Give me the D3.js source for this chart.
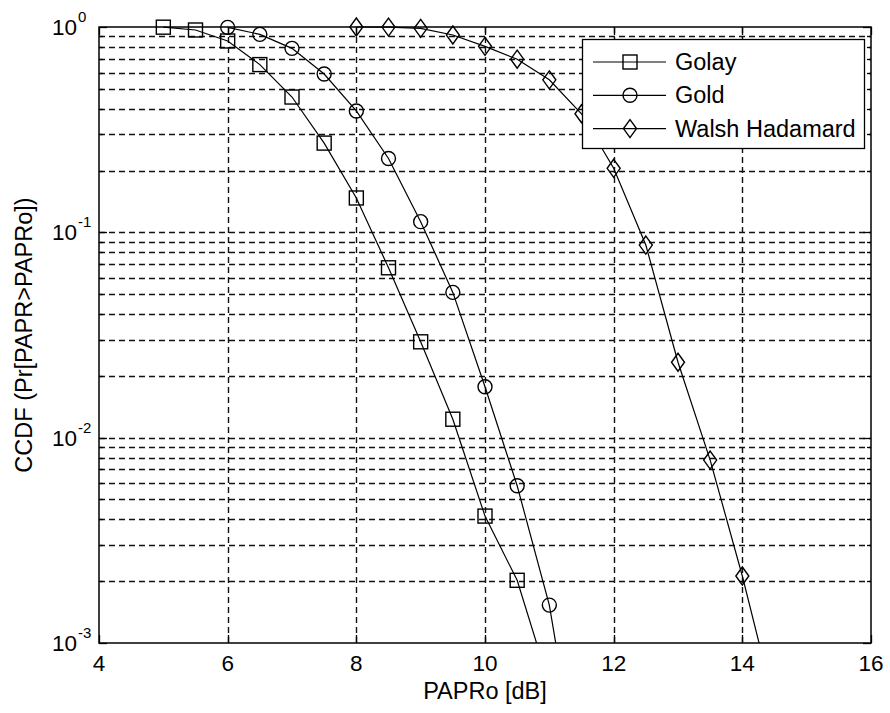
<!DOCTYPE html>
<html>
<head>
<meta charset="utf-8">
<script src="https://cdn.jsdelivr.net/npm/d3@7"></script>
<style>
  html, body { margin: 0; padding: 0; background: #fff; }
  svg { display: block; }
  text { font-family: "Liberation Sans", Arial, Helvetica, sans-serif; fill: #000; }
</style>
</head>
<body>
<svg id="chart" width="890" height="713"></svg>
<script>
// ---- data ----
const xTicks = [4, 6, 8, 10, 12, 14, 16];
const yTickExps = [0, -1, -2, -3];
const seriesNames = ["Golay", "Gold", "Walsh Hadamard"];

const golayX = [5, 5.5, 6, 6.5, 7, 7.5, 8, 8.5, 9, 9.5, 10, 10.5, 11];
const golayY = [0.998, 0.967, 0.855, 0.656, 0.456, 0.272, 0.147, 0.0672, 0.0293, 0.0123, 0.00415, 0.00202, 0.00063];

const goldX = [6, 6.5, 7, 7.5, 8, 8.5, 9, 9.5, 10, 10.5, 11, 11.5];
const goldY = [0.996, 0.921, 0.787, 0.590, 0.390, 0.229, 0.1127, 0.0510, 0.0177, 0.00583, 0.00153, 0.00018];

const walshX = [8, 8.5, 9, 9.5, 10, 10.5, 11, 11.5, 12, 12.5, 13, 13.5, 14, 14.5];
const walshY = [1.0, 0.999, 0.985, 0.914, 0.805, 0.697, 0.553, 0.378, 0.205, 0.0867, 0.0233, 0.00778, 0.00212, 0.0005];

// ---- layout ----
const L = 99, R = 871, T = 27, B = 643;
const svg = d3.select("#chart");
const x = d3.scaleLinear().domain([4, 16]).range([L, R]);
const y = d3.scaleLog().domain([1e-3, 1]).range([B, T]);

const FS = 22.5;

// grid
const yAll = y.ticks();
const isMajor = v => Math.abs(Math.log10(v) - Math.round(Math.log10(v))) < 1e-9;
const grid = svg.append("g").attr("stroke", "#111").attr("stroke-width", 1.4)
  .attr("stroke-dasharray", "6,4").attr("fill", "none");
grid.selectAll("line.h").data(yAll.filter(v => v > 1e-3 * 1.0001 && v < 0.9999))
  .join("line").attr("class", "h")
  .attr("x1", L).attr("x2", R).attr("y1", d => Math.round(y(d)) + 0.5).attr("y2", d => Math.round(y(d)) + 0.5);
grid.selectAll("line.v").data(xTicks.slice(1, -1))
  .join("line").attr("class", "v")
  .attr("y1", T).attr("y2", B).attr("x1", d => Math.round(x(d)) + 0.5).attr("x2", d => Math.round(x(d)) + 0.5);

// ticks
const ticks = svg.append("g").attr("stroke", "#000").attr("stroke-width", 1.3);
yAll.forEach(v => {
  const len = isMajor(v) ? 8 : 4;
  const yy = Math.round(y(v)) + 0.5;
  ticks.append("line").attr("x1", L).attr("x2", L + len).attr("y1", yy).attr("y2", yy);
  ticks.append("line").attr("x1", R).attr("x2", R - len).attr("y1", yy).attr("y2", yy);
});
xTicks.forEach(v => {
  const xx = Math.round(x(v)) + 0.5;
  ticks.append("line").attr("x1", xx).attr("x2", xx).attr("y1", B).attr("y2", B - 8);
  ticks.append("line").attr("x1", xx).attr("x2", xx).attr("y1", T).attr("y2", T + 8);
});

// frame
svg.append("rect").attr("x", L).attr("y", T).attr("width", R - L).attr("height", B - T)
  .attr("fill", "none").attr("stroke", "#000").attr("stroke-width", 1.5);

// x tick labels
svg.append("g").selectAll("text").data(xTicks).join("text")
  .attr("x", d => x(d)).attr("y", 671).attr("text-anchor", "middle")
  .attr("font-size", FS).text(d => d);

// y tick labels
const yl = svg.append("g");
yTickExps.forEach(e => {
  const yy = y(Math.pow(10, e));
  yl.append("text").attr("x", 77).attr("y", yy + 8).attr("text-anchor", "end")
    .attr("font-size", FS).text("10");
  yl.append("text").attr("x", 78).attr("y", yy - 5).attr("text-anchor", "start")
    .attr("font-size", 15).text(e === 0 ? "0" : "-" + Math.abs(e));
});

// axis labels
svg.append("text").attr("x", (L + R) / 2).attr("y", 699).attr("text-anchor", "middle")
  .attr("font-size", FS + 1).text("PAPRo [dB]");
svg.append("text").attr("transform", `translate(32,${(T + B) / 2}) rotate(-90)`)
  .attr("text-anchor", "middle").attr("font-size", FS + 1).text("CCDF (Pr[PAPR>PAPRo])");

// series
svg.append("clipPath").attr("id", "clip").append("rect")
  .attr("x", L).attr("y", T - 2).attr("width", R - L).attr("height", B - T + 2);

const series = [
  { name: seriesNames[0], xs: golayX, ys: golayY, marker: "square" },
  { name: seriesNames[1], xs: goldX, ys: goldY, marker: "circle" },
  { name: seriesNames[2], xs: walshX, ys: walshY, marker: "diamond" }
];

const line = d3.line().x(d => x(d[0])).y(d => y(d[1]));

function drawMarker(g, kind, cx, cy) {
  if (kind === "square") {
    g.append("rect").attr("x", cx - 7).attr("y", cy - 7).attr("width", 14).attr("height", 14);
  } else if (kind === "circle") {
    g.append("circle").attr("cx", cx).attr("cy", cy).attr("r", 7);
  } else {
    g.append("path").attr("d", `M${cx},${cy - 9}L${cx + 6.5},${cy}L${cx},${cy + 9}L${cx - 6.5},${cy}Z`);
  }
}

series.forEach(s => {
  const pts = s.xs.map((v, i) => [v, s.ys[i]]);
  svg.append("path").datum(pts).attr("d", line).attr("fill", "none")
    .attr("stroke", "#000").attr("stroke-width", 1.2).attr("clip-path", "url(#clip)");
  const mg = svg.append("g").attr("fill", "none").attr("stroke", "#000").attr("stroke-width", 1.4);
  pts.filter(p => p[1] >= 1e-3).forEach(p => drawMarker(mg, s.marker, x(p[0]), y(p[1])));
});

// legend
const lg = svg.append("g");
lg.append("rect").attr("x", 582.5).attr("y", 39.5).attr("width", 282).attr("height", 109)
  .attr("fill", "#fff").attr("stroke", "#000").attr("stroke-width", 1.3);
series.forEach((s, i) => {
  const cy = 62 + i * 33.3;
  lg.append("line").attr("x1", 593).attr("x2", 666).attr("y1", cy).attr("y2", cy)
    .attr("stroke", "#000").attr("stroke-width", 1.2);
  const mg = lg.append("g").attr("fill", "none").attr("stroke", "#000").attr("stroke-width", 1.4);
  drawMarker(mg, s.marker, 630, cy);
  lg.append("text").attr("x", 675).attr("y", cy + 8).attr("font-size", FS + 1).text(s.name);
});
</script>
</body>
</html>
